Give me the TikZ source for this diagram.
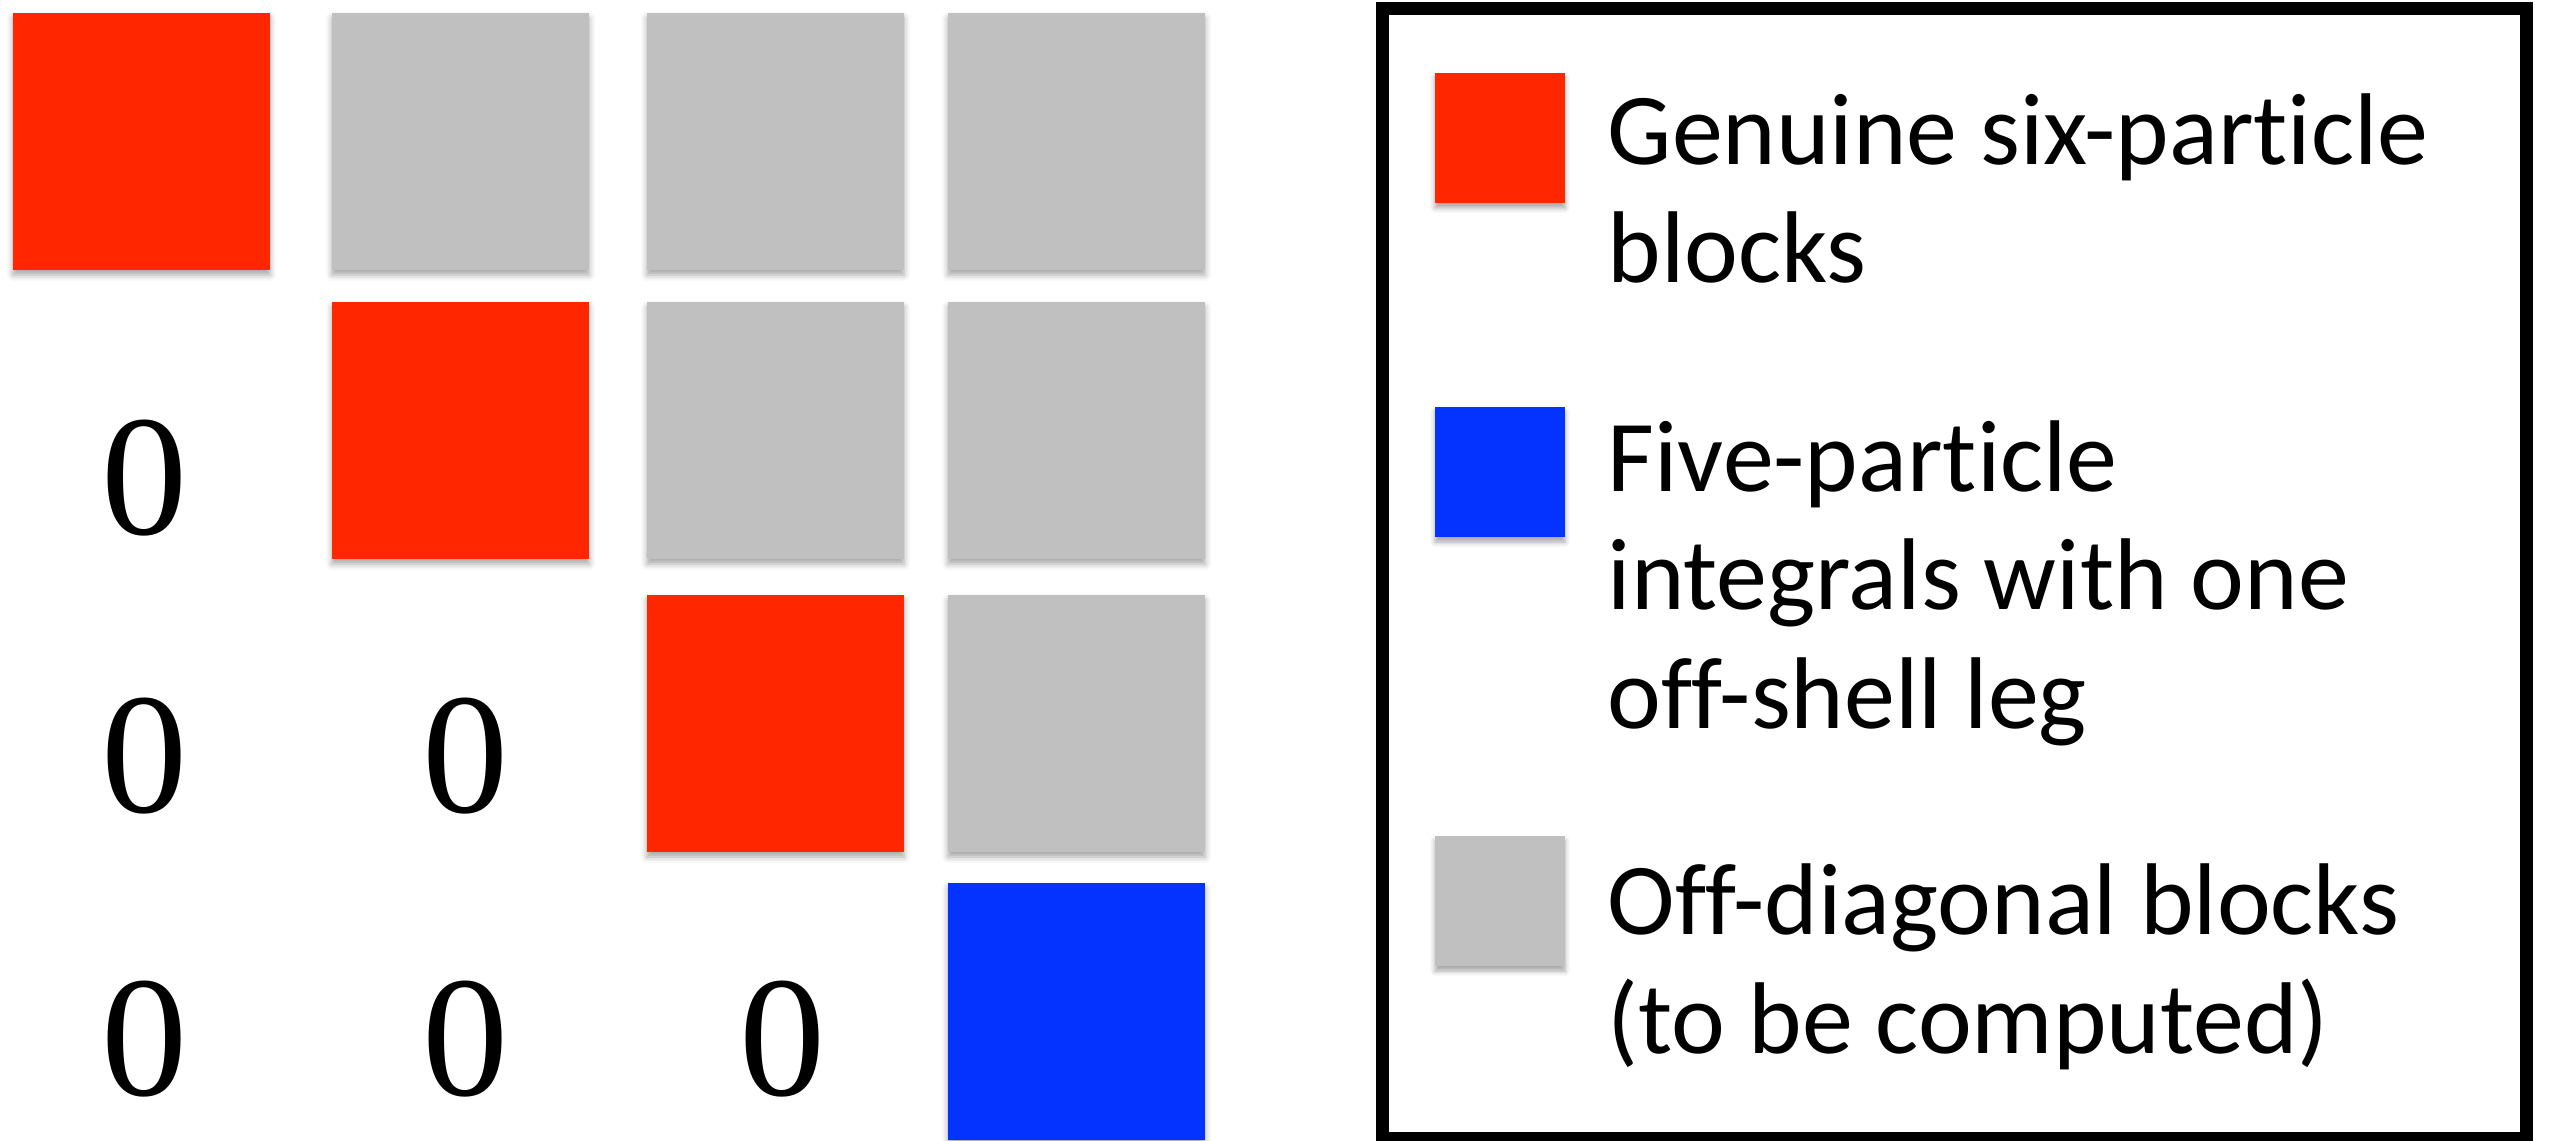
\documentclass[tikz,border=0pt]{standalone}
\usepackage{fontspec}
\newfontfamily\legendfont[Ligatures=NoCommon]{Carlito}
\newfontfamily\zerofont{Liberation Serif}
\usepackage{tikz}
\usetikzlibrary{positioning,shadows.blur}

\definecolor{blockred}{HTML}{FF2600}
\definecolor{blockgray}{HTML}{C0C0C0}
\definecolor{blockblue}{HTML}{0433FF}

\begin{document}
\begin{tikzpicture}[
    block/.style={rectangle, minimum size=2.57cm, inner sep=0pt,
        blur shadow={shadow xshift=0pt, shadow yshift=-0.5mm, shadow blur radius=0.6mm, shadow opacity=35}},
    genuine/.style={block, fill=blockred},
    offdiag/.style={block, fill=blockgray},
    fivept/.style={block, fill=blockblue},
    zero/.style={inner sep=0pt, font=\zerofont\fontsize{49}{49}\selectfont},
    key/.style={rectangle, minimum size=1.3cm, inner sep=0pt,
        blur shadow={shadow xshift=0pt, shadow yshift=-0.5mm, shadow blur radius=0.5mm, shadow opacity=35}},
    entry/.style={anchor=base west, align=left, inner sep=0pt, font=\legendfont\fontsize{29}{33.6}\selectfont}
]
\useasboundingbox (0,0) rectangle (25.5,-11.41);

% Row 1
\node[genuine] (b11) at (1.415, -1.415) {};
\node[offdiag] (b12) at (4.605, -1.415) {};
\node[offdiag] (b13) at (7.755, -1.415) {};
\node[offdiag] (b14) at (10.765, -1.415) {};

% Row 2
\node[zero] (z21) at (1.45, -4.78) {0};
\node[genuine] (b22) at (4.605, -4.305) {};
\node[offdiag] (b23) at (7.755, -4.305) {};
\node[offdiag] (b24) at (10.765, -4.305) {};

% Row 3
\node[zero] (z31) at (1.45, -7.56) {0};
\node[zero] (z32) at (4.66, -7.56) {0};
\node[genuine] (b33) at (7.755, -7.235) {};
\node[offdiag] (b34) at (10.765, -7.235) {};

% Row 4
\node[zero] (z41) at (1.45, -10.39) {0};
\node[zero] (z42) at (4.66, -10.39) {0};
\node[zero] (z43) at (7.83, -10.39) {0};
\node[fivept] (b44) at (10.765, -10.115) {};

% Legend (text anchored on its last line)
\node[draw, line width=3.7pt, minimum width=11.44cm, minimum height=11.29cm] (legend) at (19.54, -5.735) {};

\node[key, fill=blockred] (keyred) at (15.0, -1.38) {};
\node[entry] (txtred) at (16.07, -2.83) {Genuine six-particle\\blocks};

\node[key, fill=blockblue] (keyblue) at (15.0, -4.72) {};
\node[entry] (txtblue) at (16.07, -7.28) {Five-particle\\integrals with one\\off-shell leg};

\node[key, fill=blockgray] (keygray) at (15.0, -9.01) {};
\node[entry] (txtgray) at (16.07, -10.53) {Off-diagonal blocks\\(to be computed)};

\end{tikzpicture}
\end{document}
